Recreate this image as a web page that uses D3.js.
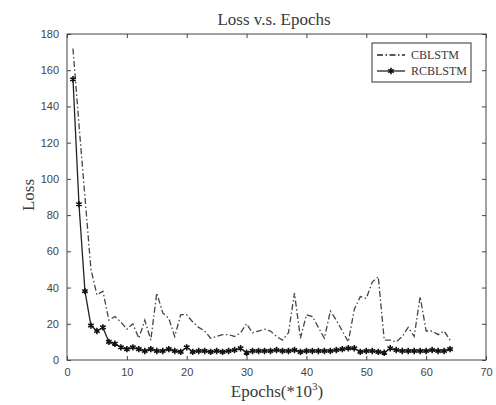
<!DOCTYPE html>
<html lang="en">
<head>
<meta charset="utf-8">
<title>Loss v.s. Epochs</title>
<script src="https://d3js.org/d3.v7.min.js"></script>
<style>
  body { margin: 0; background: #fff; }
  .tick text { font-family: "Liberation Sans", Arial, sans-serif; font-size: 11px; fill: #444; }
  .tick line { stroke: #444; }
  .serif { font-family: "Liberation Serif", "Times New Roman", serif; fill: #3a3a3a; }
</style>
</head>
<body>
<svg id="chart"></svg>
<script>
// epochs (x 10^3)
const epochs = d3.range(1, 65);
const cblstm = [172, 130, 90, 50, 36, 38, 22, 24, 21, 17,
                20, 12, 22, 11, 37, 26, 23, 13, 25, 25,
                21, 18, 16, 12, 13, 14, 14, 13, 15, 20,
                15, 16, 17, 16, 13, 11, 15, 37, 12, 25,
                24, 18, 12, 27, 22, 16, 10, 28, 35, 34,
                43, 46, 11, 11, 10, 13, 18, 13, 35, 16,
                16, 14, 16, 11];
const rcblstm = [155, 86, 38, 19, 16, 18, 10, 9, 7, 6,
                 7, 6, 5, 6, 5, 5, 6, 5, 4.5, 7,
                 4.5, 5, 5, 4.5, 5, 4.5, 5, 5.5, 6.5, 4,
                 5, 5, 5, 5, 5.5, 5, 5, 5.5, 4.5, 5,
                 5, 5, 5, 5, 5.5, 6, 6.5, 6.5, 4.5, 5,
                 5, 4.5, 4, 6.5, 5.5, 5, 5, 5, 5, 5,
                 5.5, 5, 5, 6];
const xTicks = [0, 10, 20, 30, 40, 50, 60, 70];
const yTicks = [0, 20, 40, 60, 80, 100, 120, 140, 160, 180];

const W = 496, H = 405;
const svg = d3.select("#chart").attr("width", W).attr("height", H);

const x = d3.scaleLinear().domain([0, 70]).range([67, 486]);
const y = d3.scaleLinear().domain([0, 180]).range([360, 34]);

// box
svg.append("rect")
  .attr("x", x(0)).attr("y", y(180))
  .attr("width", x(70) - x(0)).attr("height", y(0) - y(180))
  .attr("fill", "#fff").attr("stroke", "#444").attr("stroke-width", 1);

// axes, ticks inside
const noDomain = g => g.select(".domain").remove();
svg.append("g").attr("transform", `translate(0,${y(0)})`)
  .call(d3.axisBottom(x).tickValues(xTicks).tickSizeInner(-4).tickSizeOuter(0).tickPadding(8))
  .call(noDomain);
svg.append("g").attr("transform", `translate(0,${y(180)})`)
  .call(d3.axisTop(x).tickValues(xTicks).tickSizeInner(-4).tickSizeOuter(0).tickFormat(""))
  .call(noDomain);
svg.append("g").attr("transform", `translate(${x(0)},0)`)
  .call(d3.axisLeft(y).tickValues(yTicks).tickSizeInner(-4).tickSizeOuter(0).tickPadding(8))
  .call(noDomain);
svg.append("g").attr("transform", `translate(${x(70)},0)`)
  .call(d3.axisRight(y).tickValues(yTicks).tickSizeInner(-4).tickSizeOuter(0).tickFormat(""))
  .call(noDomain);

// lines
const line = d3.line().x((d, i) => x(epochs[i])).y(d => y(d));

svg.append("path").datum(cblstm)
  .attr("d", line).attr("fill", "none")
  .attr("stroke", "#444").attr("stroke-width", 1.3)
  .attr("stroke-dasharray", "6,2.5,1.5,2.5");

svg.append("path").datum(rcblstm)
  .attr("d", line).attr("fill", "none")
  .attr("stroke", "#222").attr("stroke-width", 1.3);

const star = d3.symbol().type(d3.symbolAsterisk).size(28);
svg.append("g").selectAll("path")
  .data(rcblstm)
  .join("path")
  .attr("transform", (d, i) => `translate(${x(epochs[i])},${y(d)})`)
  .attr("d", star)
  .attr("fill", "none").attr("stroke", "#111").attr("stroke-width", 1.6);

// title and labels
svg.append("text").attr("class", "serif")
  .attr("x", 274).attr("y", 25).attr("text-anchor", "middle")
  .attr("font-size", 17).text("Loss v.s. Epochs");

svg.append("text").attr("class", "serif")
  .attr("transform", "translate(34,195) rotate(-90)")
  .attr("text-anchor", "middle").attr("font-size", 17).text("Loss");

const xl = svg.append("text").attr("class", "serif")
  .attr("x", 277).attr("y", 397).attr("text-anchor", "middle")
  .attr("font-size", 17);
xl.append("tspan").text("Epochs(*10");
xl.append("tspan").attr("dy", -7).attr("font-size", 11).text("3");
xl.append("tspan").attr("dy", 7).text(")");

// legend
const leg = svg.append("g");
leg.append("rect").attr("x", 372).attr("y", 43).attr("width", 99).attr("height", 39)
  .attr("fill", "#fff").attr("stroke", "#333");
const items = [
  { name: "CBLSTM", dash: "6,2.5,1.5,2.5", star: false },
  { name: "RCBLSTM", dash: null, star: true }
];
items.forEach((it, i) => {
  const ly = 55 + i * 16;
  leg.append("line").attr("x1", 377).attr("x2", 405).attr("y1", ly).attr("y2", ly)
    .attr("stroke", "#222").attr("stroke-width", 1.3)
    .attr("stroke-dasharray", it.dash);
  if (it.star) {
    leg.append("path").attr("transform", `translate(391,${ly})`)
      .attr("d", star).attr("fill", "none").attr("stroke", "#111").attr("stroke-width", 1.6);
  }
  leg.append("text").attr("class", "serif")
    .attr("x", 411).attr("y", ly).attr("dy", "0.35em")
    .attr("font-size", 12).text(it.name);
});
</script>
</body>
</html>
